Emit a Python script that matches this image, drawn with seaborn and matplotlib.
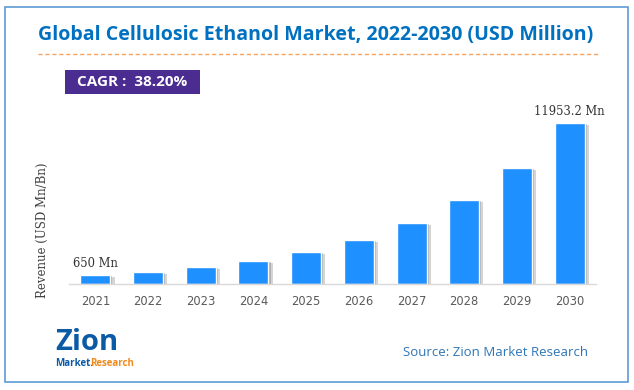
import numpy as np
import pandas as pd
import seaborn as sns
import matplotlib
matplotlib.use("Agg")
import matplotlib.pyplot as plt
import matplotlib.patheffects as pe
from matplotlib.patches import Rectangle

sns.set_style("white")

# data
years = ["2021", "2022", "2023", "2024", "2025", "2026", "2027", "2028", "2029", "2030"]
revenue = [650, 895, 1240, 1715, 2370, 3275, 4525, 6255, 8645, 11953.2]
labels = {"2021": "650 Mn", "2030": "11953.2 Mn"}
title = "Global Cellulosic Ethanol Market, 2022-2030 (USD Million)"
cagr = "CAGR :  38.20%"
source = "Source: Zion Market Research"
ylabel = "Revenue (USD Mn/Bn)"

df = pd.DataFrame({"year": years, "revenue": revenue})

W, H = 634, 390
fig = plt.figure(figsize=(W / 100, H / 100), dpi=100)

ax = fig.add_axes([69 / W, 106 / H, (596 - 69) / W, 188.6 / H])
sns.barplot(data=df, x="year", y="revenue", color="#1E90FF", saturation=1,
            width=0.57, ax=ax)
# soft drop shadow on the bars
for p in ax.patches:
    p.set_path_effects([pe.SimplePatchShadow(offset=(3, -1.5), shadow_rgbFace="#888888", alpha=0.35),
                        pe.SimplePatchShadow(offset=(1.5, -0.8), shadow_rgbFace="#666666", alpha=0.35),
                        pe.Normal()])

ax.set_ylim(0, 14000)
ax.set_xlim(-0.5, 9.5)
ax.set_yticks([])
ax.set_xlabel("")
ax.set_ylabel("")
for s in ["top", "right", "left"]:
    ax.spines[s].set_visible(False)
ax.spines["bottom"].set_color("#d9d9d9")
ax.spines["bottom"].set_linewidth(1)
ax.tick_params(axis="x", length=0, pad=8, labelsize=8.3, labelcolor="#595959")

for i, y in enumerate(years):
    if y in labels:
        ax.annotate(labels[y], (i, revenue[i]), xytext=(0, 8.5), textcoords="offset points",
                    ha="center", va="center", fontsize=8.3, family="DejaVu Serif",
                    color="#333333")

fig.text(42 / W, 1 - 230 / H, ylabel, rotation=90, ha="center", va="center",
         fontsize=8.5, family="DejaVu Serif", color="#404040")

# title, fit to its width in the reference
t = fig.text(38 / W, 1 - 35 / H, title, ha="left", va="center", fontsize=16,
             fontweight="bold", family="Open Sans", color="#0070C0")
fig.canvas.draw()
w = t.get_window_extent().width
t.set_fontsize(16 * 556 / w)

fig.add_artist(plt.Line2D([38 / W, 600 / W], [1 - 54 / H, 1 - 54 / H], color="#F4A460",
                          lw=1, ls=(0, (3, 2))))

fig.add_artist(Rectangle((65 / W, 1 - 94 / H), 135 / W, 24 / H, transform=fig.transFigure,
                         facecolor="#4B2C91", edgecolor="none"))
fig.text(132 / W, 1 - 82 / H, cagr, ha="center", va="center", fontsize=11,
         fontweight="bold", family="Open Sans", color="white")

fig.text(588 / W, 1 - 352 / H, source, ha="right", va="center", fontsize=9.5,
         family="Open Sans", color="#2E75B6")

# logo approximation
fig.text(55 / W, 1 - 343 / H, "Zion", ha="left", va="center", fontsize=21,
         fontweight="bold", family="Open Sans", color="#0B5AA6")
fig.text(55 / W, 1 - 364 / H, "Market.", ha="left", va="center", fontsize=7,
         fontweight="bold", family="Open Sans", color="#0B5AA6")
fig.text(90 / W, 1 - 364 / H, "Research", ha="left", va="center", fontsize=7,
         fontweight="bold", family="Open Sans", color="#F08A1C")

fig.add_artist(Rectangle((5 / W, 1 - 382 / H), 623 / W, 375 / H, transform=fig.transFigure,
                         facecolor="none", edgecolor="#5B9BD5", lw=1.2))

fig.savefig("out.png", dpi=100)
